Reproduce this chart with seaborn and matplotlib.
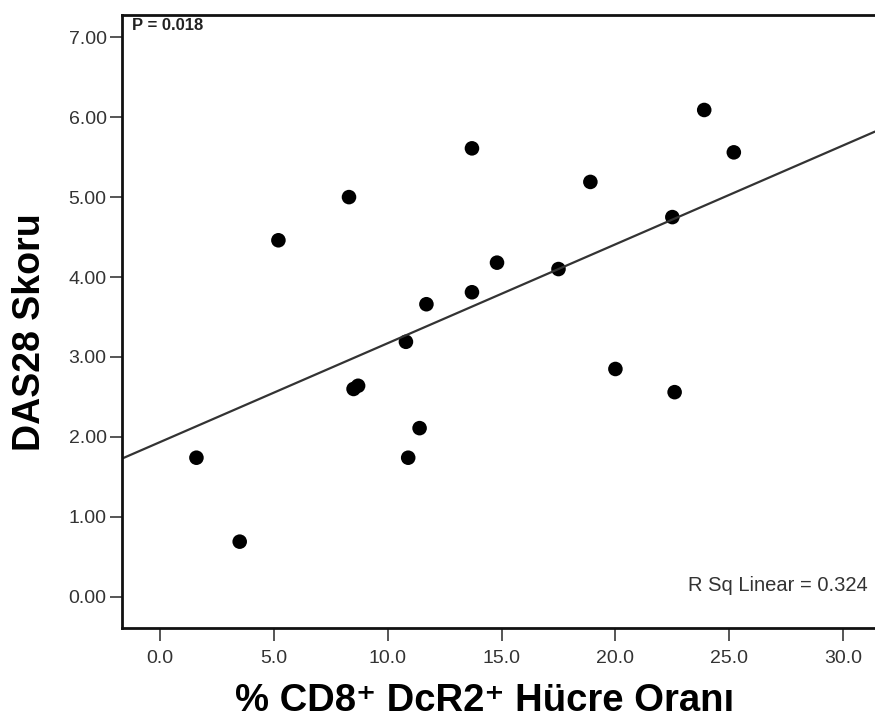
import matplotlib
matplotlib.use("Agg")
import matplotlib.pyplot as plt
import seaborn as sns
import numpy as np

# values
cd8_dcr2 = [1.6, 3.5, 5.2, 8.3, 8.5, 8.7, 10.8, 10.9, 11.4, 11.7,
            13.7, 13.7, 14.8, 17.5, 18.9, 20.0, 22.5, 22.6, 23.9, 25.2]
das28 = [1.74, 0.69, 4.46, 5.00, 2.60, 2.64, 3.19, 1.74, 2.11, 3.66,
         3.81, 5.61, 4.18, 4.10, 5.19, 2.85, 4.75, 2.56, 6.09, 5.56]
x_ticks = [0, 5, 10, 15, 20, 25, 30]
y_ticks = [0, 1, 2, 3, 4, 5, 6, 7]

sns.set_style("ticks")
plt.rcParams['font.family'] = ['Liberation Sans', 'DejaVu Sans']

fig = plt.figure(figsize=(8.75, 7.26), dpi=100)
ax = fig.add_axes([0.1394, 0.135, 0.8606, 0.844])
ax.set_xlim(-1.67, 31.4)
ax.set_ylim(-0.39, 7.275)

sns.regplot(x=cd8_dcr2, y=das28, ax=ax, ci=None, truncate=False,
            scatter_kws=dict(s=110, color='black', edgecolor='none', alpha=1),
            line_kws=dict(color='#333333', lw=1.6))

ax.set_xticks(x_ticks)
ax.set_xticklabels([f"{v:.1f}" for v in x_ticks])
ax.set_yticks(y_ticks)
ax.set_yticklabels([f"{v:.2f}" for v in y_ticks])
ax.tick_params(axis='both', labelsize=14, labelcolor='#333333', color='#555555',
               length=9, width=1.4, direction='out')
ax.tick_params(axis='x', pad=7)
ax.tick_params(axis='y', pad=2)

for side in ['left', 'bottom', 'top']:
    ax.spines[side].set_linewidth(2)
    ax.spines[side].set_color('#111111')
ax.spines['right'].set_visible(False)

ax.set_xlabel("% CD8\u207a DcR2\u207a Hücre Oranı", fontsize=27.5, fontweight='bold', color='black')
ax.set_ylabel("DAS28 Skoru", fontsize=27, fontweight='bold', color='black')
ax.xaxis.set_label_coords(0.482, -0.089)
ax.yaxis.set_label_coords(-0.098, 0.483)

ax.text(0.013, 0.995, "P = 0.018", transform=ax.transAxes, fontsize=12,
        fontweight='bold', color='#222222', va='top', ha='left')
ax.text(0.99, 0.07, "R Sq Linear = 0.324", transform=ax.transAxes, fontsize=14.5,
        color='#333333', va='center', ha='right')

fig.savefig("out.png", dpi=100)
